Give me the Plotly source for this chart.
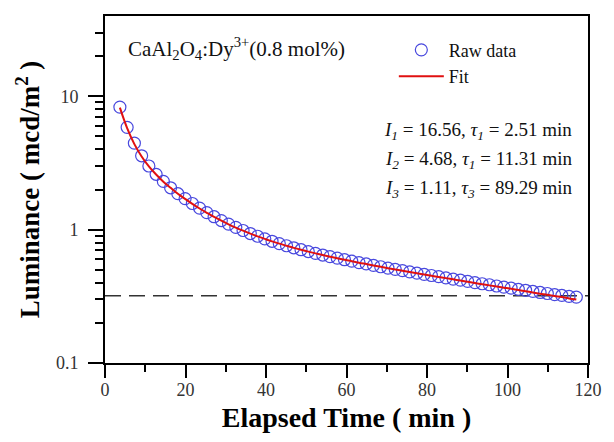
import plotly.graph_objects as go

# ---- data ----
time_min = [3.7, 5.5, 7.3, 9.1, 10.9, 12.7, 14.5, 16.3, 18.1, 19.9,
            21.7, 23.5, 25.3, 27.1, 28.9, 30.7, 32.5, 34.3, 36.1, 37.9,
            39.7, 41.5, 43.3, 45.1, 46.9, 48.7, 50.5, 52.3, 54.1, 55.9,
            57.7, 59.5, 61.3, 63.1, 64.9, 66.7, 68.5, 70.3, 72.1, 73.9,
            75.7, 77.5, 79.3, 81.1, 82.9, 84.7, 86.5, 88.3, 90.1, 91.9,
            93.7, 95.5, 97.3, 99.1, 100.9, 102.7, 104.5, 106.3, 108.1, 109.9,
            111.7, 113.5, 115.3, 117.1]

raw_lum = [8.30, 5.85, 4.45, 3.58, 3.00, 2.60, 2.30, 2.06, 1.86, 1.71,
           1.57, 1.45, 1.34, 1.25, 1.17, 1.10, 1.04, 0.985, 0.935, 0.892,
           0.853, 0.818, 0.786, 0.757, 0.731, 0.707, 0.685, 0.664, 0.645, 0.628,
           0.611, 0.595, 0.580, 0.566, 0.553, 0.540, 0.527, 0.515, 0.504, 0.493,
           0.482, 0.472, 0.462, 0.453, 0.444, 0.435, 0.426, 0.418, 0.409, 0.401,
           0.393, 0.386, 0.378, 0.371, 0.364, 0.357, 0.351, 0.344, 0.338, 0.332,
           0.326, 0.321, 0.316, 0.312]

fit_lum = [8.22, 5.77, 4.38, 3.54, 2.98, 2.59, 2.29, 2.06, 1.86, 1.70,
           1.56, 1.44, 1.337, 1.245, 1.167, 1.097, 1.036, 0.982, 0.933, 0.890,
           0.852, 0.817, 0.785, 0.757, 0.730, 0.706, 0.684, 0.664, 0.645, 0.627,
           0.610, 0.594, 0.580, 0.565, 0.552, 0.539, 0.526, 0.514, 0.503, 0.492,
           0.481, 0.471, 0.461, 0.451, 0.442, 0.433, 0.424, 0.415, 0.406, 0.398,
           0.390, 0.382, 0.374, 0.367, 0.360, 0.352, 0.345, 0.338, 0.331, 0.325,
           0.318, 0.312, 0.305, 0.299]

threshold_time = [0, 120]
threshold_lum = [0.32, 0.32]

x_tick_vals = [0, 20, 40, 60, 80, 100, 120]
y_tick_vals = [0.1, 1, 10]
y_tick_text = ["0.1", "1", "10"]
y_minor_vals = [0.2, 0.3, 0.4, 0.5, 0.6, 0.7, 0.8, 0.9,
                2, 3, 4, 5, 6, 7, 8, 9, 20, 30]

sample_label = "CaAl<sub>2</sub>O<sub>4</sub>:Dy<sup>3+</sup>(0.8 mol%)"
param_lines = [
    "<i>I</i><sub><i>1</i></sub> = 16.56, <i>τ</i><sub><i>1</i></sub> = 2.51 min",
    "<i>I</i><sub><i>2</i></sub> = 4.68, <i>τ</i><sub><i>1</i></sub> = 11.31 min",
    "<i>I</i><sub><i>3</i></sub> = 1.11, <i>τ</i><sub><i>3</i></sub> = 89.29 min",
]

SERIF = "Liberation Serif, Times New Roman, serif"

fig = go.Figure()
fig.add_trace(go.Scatter(
    x=threshold_time, y=threshold_lum, mode="lines", showlegend=False,
    line=dict(color="#333333", width=1.5, dash="16px,8px"), hoverinfo="skip"))
fig.add_trace(go.Scatter(
    x=time_min, y=raw_lum, mode="markers", name="Raw data",
    marker=dict(symbol="circle-open", size=12, color="#4848de",
                line=dict(width=1.2, color="#4848de"))))
fig.add_trace(go.Scatter(
    x=time_min, y=fit_lum, mode="lines", name="Fit", line_shape="spline",
    line=dict(color="#e01010", width=2)))

fig.add_annotation(text=sample_label, xref="paper", yref="paper",
                   x=0.043, y=0.905, xanchor="left", yanchor="middle",
                   showarrow=False, font=dict(family=SERIF, size=21, color="#111"))
for i, t in enumerate(param_lines):
    fig.add_annotation(text=t, xref="paper", yref="paper",
                       x=0.972, y=0.668 - i * 0.083, xanchor="right", yanchor="middle",
                       showarrow=False, font=dict(family=SERIF, size=19, color="#111"))

fig.update_layout(
    width=614, height=442,
    margin=dict(l=105, r=15, t=16, b=79),
    paper_bgcolor="white", plot_bgcolor="white",
    font=dict(family=SERIF, color="#222"),
    showlegend=True,
    legend=dict(x=0.598, y=0.955, xanchor="left", yanchor="top",
                bgcolor="rgba(0,0,0,0)", font=dict(family=SERIF, size=18, color="#111"),
                itemwidth=45, tracegroupgap=0),
    xaxis=dict(
        range=[0, 120], tickmode="array", tickvals=x_tick_vals,
        ticks="outside", ticklen=13, tickwidth=2, tickcolor="black",
        showline=True, linewidth=2, linecolor="black", mirror=True,
        showgrid=False, zeroline=False, automargin=True,
        tickfont=dict(family=SERIF, size=18, color="#333"),
        ticklabelstandoff=-4,
        minor=dict(dtick=10, tick0=0, ticks="outside", ticklen=7, tickwidth=2,
                   tickcolor="black", showgrid=False),
        title=dict(text="<b>Elapsed Time ( min )</b>", standoff=9,
                   font=dict(family=SERIF, size=28, color="black")),
    ),
    yaxis=dict(
        type="log", range=[-1, 1.602],
        tickmode="array", tickvals=y_tick_vals, ticktext=y_tick_text,
        ticks="outside", ticklen=15, tickwidth=2, tickcolor="black",
        showline=True, linewidth=2, linecolor="black", mirror=True,
        showgrid=False, zeroline=False,
        tickfont=dict(family=SERIF, size=18, color="#333"),
        ticklabelstandoff=6,
        minor=dict(tickmode="array", tickvals=y_minor_vals, ticks="outside",
                   ticklen=8, tickwidth=2, tickcolor="black", showgrid=False),
        title=dict(text="<b>Luminance ( mcd/m<sup>2</sup> )</b>", standoff=8,
                   font=dict(family=SERIF, size=27, color="black")),
    ),
)

fig.write_html("out.html", config={"displayModeBar": False},
               post_script="document.body.style.margin='0';document.body.style.overflow='hidden';")
